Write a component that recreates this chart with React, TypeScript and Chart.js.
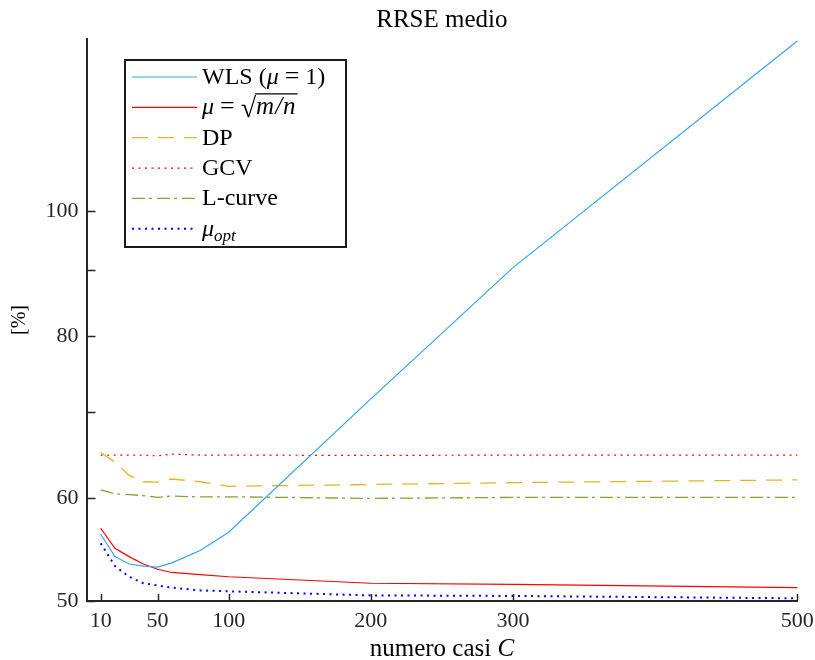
import React, { useEffect, useRef } from "react";
import { Chart, registerables } from "chart.js";

Chart.register(...registerables);

// ---- data ----
const casi = [10, 20, 30, 40, 50, 60, 80, 100, 200, 300, 500];
const wls = [56.3, 54.1, 53.4, 53.2, 53.1, 53.5, 54.7, 56.5, 71.6, 90.4, 135.2];
const muSqrt = [56.9, 54.9, 54.1, 53.4, 52.9, 52.6, 52.4, 52.2, 51.6, 51.5, 51.2];
const dp = [65.1, 64.0, 62.5, 61.8, 61.75, 62.1, 61.8, 61.3, 61.5, 61.7, 62.0];
const gcv = [64.8, 64.8, 64.8, 64.8, 64.7, 64.9, 64.8, 64.8, 64.75, 64.8, 64.8];
const lcurve = [60.9, 60.5, 60.4, 60.3, 60.1, 60.25, 60.15, 60.17, 60.0, 60.1, 60.1];
const muOpt = [55.4, 53.2, 52.2, 51.6, 51.4, 51.2, 50.95, 50.87, 50.5, 50.45, 50.24];

const xTicks = [10, 50, 100, 200, 300, 500];
const yTicks = [50, 60, 70, 80, 90, 100];
const yLabeled = [50, 60, 80, 100];

const titleText = "RRSE medio";
const xTitleRoman = "numero casi ";
const xTitleItalic = "C";
const yTitleText = "[%]";

const FONT = "'Liberation Serif', 'Times New Roman', serif";
const AXIS = "#262626";

const overlay = {
  id: "overlay",
  afterDraw(chart: any) {
    const ctx = chart.ctx as CanvasRenderingContext2D;
    const { left, right, top, bottom } = chart.chartArea;
    ctx.save();

    // inner tick marks
    ctx.strokeStyle = AXIS;
    ctx.lineWidth = 1.5;
    const ys = chart.scales.y;
    ys.ticks.forEach((t: any) => {
      const py = Math.round(ys.getPixelForValue(t.value)) + 0.5;
      ctx.beginPath();
      ctx.moveTo(left, py);
      ctx.lineTo(left + 9, py);
      ctx.stroke();
    });
    const xs = chart.scales.x;
    xs.ticks.forEach((t: any) => {
      const px = Math.round(xs.getPixelForValue(t.value)) + 0.5;
      ctx.beginPath();
      ctx.moveTo(px, bottom);
      ctx.lineTo(px, bottom - 7);
      ctx.stroke();
    });

    // title
    const cx = (left + right) / 2;
    ctx.fillStyle = "#000";
    ctx.textBaseline = "alphabetic";
    ctx.textAlign = "center";
    ctx.font = `25px ${FONT}`;
    ctx.fillText(titleText, cx, 27);

    // x title
    ctx.font = `25px ${FONT}`;
    const w1 = ctx.measureText(xTitleRoman).width;
    ctx.font = `italic 25px ${FONT}`;
    const w2 = ctx.measureText(xTitleItalic).width;
    const sx = cx - (w1 + w2) / 2;
    ctx.textAlign = "left";
    ctx.font = `25px ${FONT}`;
    ctx.fillText(xTitleRoman, sx, 656);
    ctx.font = `italic 25px ${FONT}`;
    ctx.fillText(xTitleItalic, sx + w1, 656);

    // y title
    ctx.save();
    ctx.translate(20, (top + bottom) / 2);
    ctx.rotate(-Math.PI / 2);
    ctx.textAlign = "center";
    ctx.textBaseline = "middle";
    ctx.font = `20px ${FONT}`;
    ctx.fillText(yTitleText, 0, 0);
    ctx.restore();

    // legend
    const bx = 125, by = 60, bw = 221, bh = 187;
    ctx.fillStyle = "#fff";
    ctx.fillRect(bx, by, bw, bh);
    ctx.strokeStyle = "#1a1a1a";
    ctx.lineWidth = 2;
    ctx.strokeRect(bx, by, bw, bh);

    const rowY0 = 77;
    const rowStep = 30.35;
    const lx0 = 132, lx1 = 197, tx = 202;
    chart.data.datasets.forEach((ds: any, i: number) => {
      const y = rowY0 + i * rowStep;
      ctx.save();
      ctx.strokeStyle = ds.borderColor;
      ctx.lineWidth = ds.borderWidth;
      ctx.setLineDash(ds.borderDash || []);
      ctx.beginPath();
      ctx.moveTo(lx0, y);
      ctx.lineTo(lx1, y);
      ctx.stroke();
      ctx.restore();

      const base = y + 7;
      ctx.fillStyle = "#000";
      ctx.textAlign = "left";
      ctx.textBaseline = "alphabetic";
      let x = tx;
      const put = (s: string, style: string, dy = 0) => {
        ctx.font = style;
        ctx.fillText(s, x, base + dy);
        x += ctx.measureText(s).width;
      };
      const R = `24px ${FONT}`;
      const I = `italic 24px ${FONT}`;
      const eq = () => {
        x += 6;
        put("=", `26px ${FONT}`, 0);
        x += 6;
      };
      if (i === 0) {
        put("WLS (", R);
        put("μ", I);
        eq();
        put("1)", R);
      } else if (i === 1) {
        put("μ", I);
        eq();
        put("√", `28px ${FONT}`, 3);
        const mStart = x;
        put("m", `italic 25px ${FONT}`);
        x += 1;
        put("/", `italic 25px ${FONT}`);
        x += 1;
        put("n", `italic 25px ${FONT}`);
        ctx.strokeStyle = "#000";
        ctx.lineWidth = 1.2;
        ctx.beginPath();
        ctx.moveTo(mStart - 1, base - 20.5);
        ctx.lineTo(x + 2, base - 20.5);
        ctx.stroke();
      } else if (i === 5) {
        put("μ", I);
        put("opt", `italic 17px ${FONT}`, 5);
      } else {
        put(ds.label, R);
      }
    });

    ctx.restore();
  },
};

export default function App() {
  const ref = useRef<HTMLCanvasElement | null>(null);

  useEffect(() => {
    if (!ref.current) return;
    const mk = (label: string, data: number[], color: string, width: number, dash: number[]) => ({
      label,
      data: casi.map((c, i) => ({ x: c, y: data[i] })),
      borderColor: color,
      backgroundColor: color,
      borderWidth: width,
      borderDash: dash,
      pointRadius: 0,
      tension: 0,
      fill: false,
      clip: false as any,
    });
    const chart = new Chart(ref.current, {
      type: "line",
      data: {
        datasets: [
          mk("WLS (μ = 1)", wls, "#33A4EE", 1.2, []),
          mk("μ = √(m/n)", muSqrt, "#FF0000", 1.2, []),
          mk("DP", dp, "#EDB120", 1.3, [16, 10]),
          mk("GCV", gcv, "#FF0000", 1.2, [2, 4.5]),
          mk("L-curve", lcurve, "#77AC30", 1.3, [13, 4, 3, 5]),
          mk("μopt", muOpt, "#0000FF", 2, [2, 4.5]),
        ],
      },
      options: {
        animation: false,
        responsive: false,
        events: [],
        layout: { padding: { top: 39, right: 17.7, left: 0, bottom: 0 } },
        plugins: {
          legend: { display: false },
          title: { display: false },
          tooltip: { enabled: false },
        },
        scales: {
          x: {
            type: "linear",
            min: 0,
            max: 500,
            bounds: "data",
            afterFit: (s: any) => {
              s.height = 59;
              s.paddingLeft = 0;
              s.paddingRight = 0;
            },
            afterBuildTicks: (s: any) => {
              s.ticks = xTicks.map((v) => ({ value: v }));
            },
            ticks: {
              autoSkip: false,
              maxRotation: 0,
              padding: 7,
              color: AXIS,
              font: { family: FONT, size: 22 },
              callback: (v: any) => String(v),
            },
            grid: { display: true, drawOnChartArea: false, drawTicks: false },
            border: { display: true, color: AXIS, width: 2 },
          },
          y: {
            type: "logarithmic",
            min: 50,
            max: 135.7,
            bounds: "data",
            afterFit: (s: any) => {
              s.width = 86.5;
              s.paddingTop = 0;
              s.paddingBottom = 0;
            },
            afterBuildTicks: (s: any) => {
              s.ticks = yTicks.map((v) => ({ value: v }));
            },
            ticks: {
              autoSkip: false,
              padding: 8,
              color: AXIS,
              font: { family: FONT, size: 22 },
              callback: (v: any) => (yLabeled.includes(Number(v)) ? String(v) : ""),
            },
            grid: { display: true, drawOnChartArea: false, drawTicks: false },
            border: { display: true, color: AXIS, width: 2 },
          },
        },
      },
      plugins: [overlay],
    });
    return () => chart.destroy();
  }, []);

  return (
    <div style={{ position: "fixed", left: 0, top: 0, width: 815, height: 660, background: "#fff" }}>
      <canvas ref={ref} width={815} height={660} />
    </div>
  );
}
